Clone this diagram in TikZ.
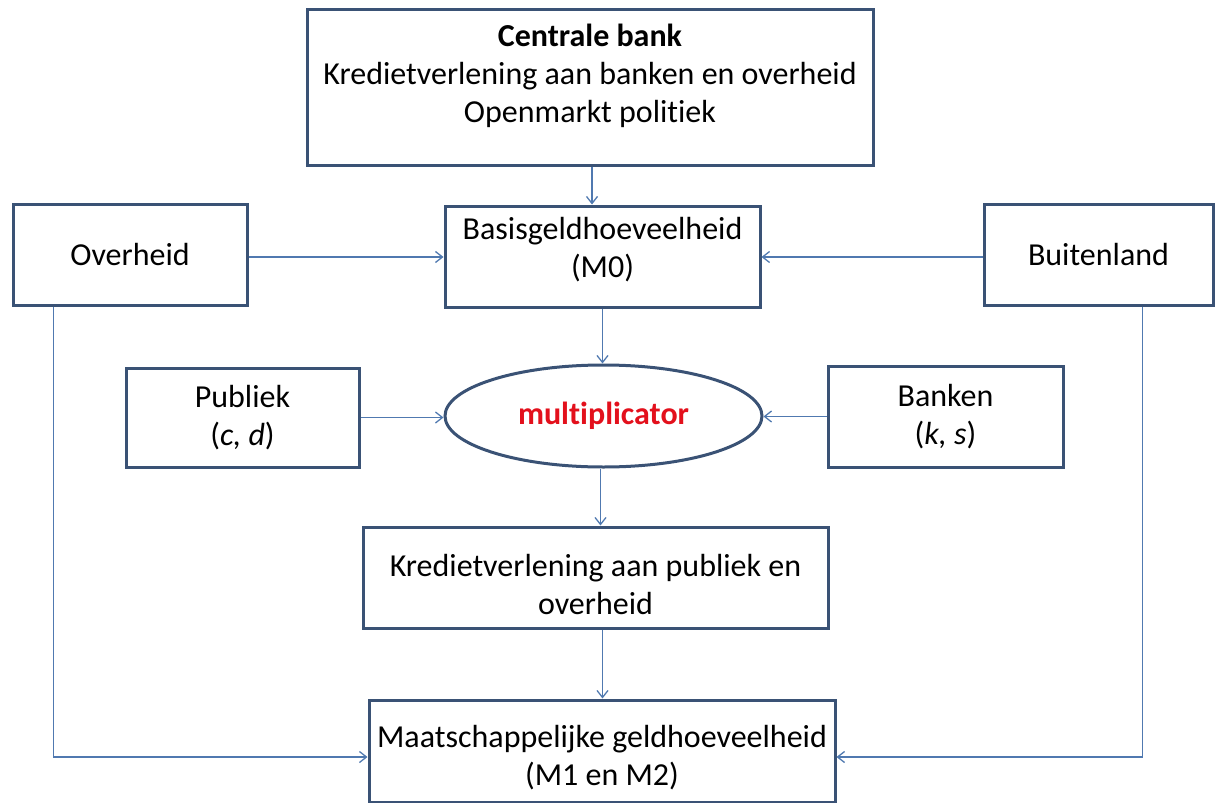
\documentclass[tikz,border=0pt]{standalone}
\usepackage{fontspec}
\setmainfont{Carlito}[Ligatures=NoCommon]
\usetikzlibrary{shapes.geometric, arrows.meta}
\definecolor{boxblue}{HTML}{3A5275}
\definecolor{lineblue}{HTML}{5079B0}
\definecolor{multred}{HTML}{E3101C}
\tikzset{
    x=1pt, y=-1pt, % one unit is one pixel of the original, y runs down
    >={Straight Barb[length=7pt, width=11pt]}, % open arrow heads
    every node/.style={font=\fontsize{32}{38}\selectfont, align=center, inner sep=0pt}, % text of all nodes
    box/.style={draw=boxblue, line width=3pt, fill=white}, % the framed boxes
    flow/.style={->, draw=lineblue, line width=1.3pt}, % the connectors
}

\begin{document}
\begin{tikzpicture}
    \useasboundingbox (0,0) rectangle (1216,803);
    \node[box, minimum width=566, minimum height=156] (cb) at (590,87) {\textbf{Centrale bank}\\Kredietverlening aan banken en overheid\\Openmarkt politiek\\[-10pt]\mbox{}};
    \node[box, minimum width=234, minimum height=101] (ovh) at (130,254.5) {Overheid};
    \node[box, minimum width=315, minimum height=101] (bgh) at (602.5,256.5) {Basisgeldhoeveelheid\\(M0)\\[-20pt]\mbox{}};
    \node[box, minimum width=229, minimum height=101] (btl) at (1098.5,254.5) {Buitenland};
    \node[box, minimum width=233, minimum height=99] (pub) at (242.5,417.5) {Publiek\\(\textit{c, d})};
    \node[box, ellipse, minimum width=317, minimum height=102] (mlt) at (603.5,416) {\textcolor{multred}{\textbf{multiplicator}}};
    \node[box, minimum width=235, minimum height=101] (bnk) at (945.5,416.5) {Banken\\(\textit{k, s})};
    \node[box, minimum width=465, minimum height=101] (krd) at (595.5,577.5) {\mbox{}\\[-2pt]Kredietverlening aan publiek en\\overheid};
    \node[box, minimum width=466, minimum height=102] (mgh) at (602,751) {\mbox{}\\[-2pt]Maatschappelijke geldhoeveelheid\\(M1 en M2)};
    \draw[flow] ([xshift=2pt]cb.south) -- ([xshift=2pt]cb.south |- bgh.north);
    \draw[flow] ([yshift=-2.5pt]ovh.east) -- ([yshift=-2.5pt]ovh.east -| bgh.west);
    \draw[flow] ([yshift=-2.5pt]btl.west) -- ([yshift=-2.5pt]btl.west -| bgh.east);
    \draw[flow] (bgh.south) -- (bgh.south |- mlt.north);
    \draw[flow] (pub.east) -- (pub.east -| mlt.west);
    \draw[flow] (bnk.west) -- (bnk.west -| mlt.east);
    \draw[flow] ([xshift=-3pt]mlt.south) -- ([xshift=-3pt]mlt.south |- krd.north);
    \draw[flow] ([xshift=7pt]krd.south) -- ([xshift=7pt]krd.south |- mgh.north);
    \draw[flow] ([xshift=42pt]ovh.south west) |- ([yshift=-6pt]mgh.west);
    \draw[flow] ([xshift=-72pt]btl.south east) |- ([yshift=-6pt]mgh.east);
\end{tikzpicture}
\end{document}
